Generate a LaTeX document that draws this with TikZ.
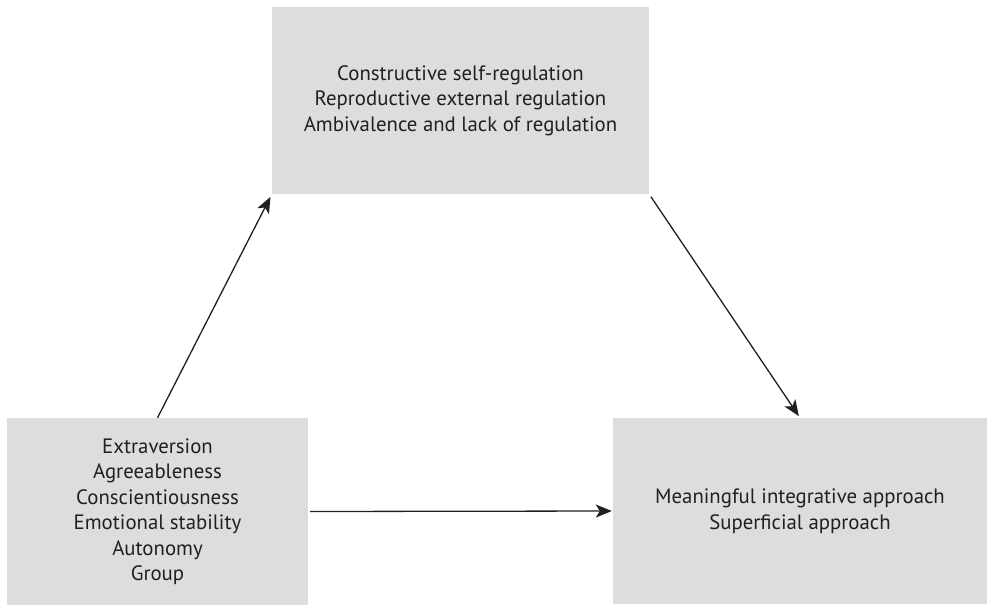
\documentclass[tikz,border=0pt]{standalone}
\usepackage{fontspec}
\setmainfont{PT Sans}
\usetikzlibrary{arrows.meta}
\definecolor{boxgrey}{HTML}{DCDDDF}
\definecolor{inkdark}{HTML}{231F20}

\begin{document}
\begin{tikzpicture}[
    x=1pt, y=-1pt,
    box/.style={fill=boxgrey, draw=none, align=center, inner sep=0pt,
                font=\fontsize{20.8}{25.5}\selectfont, text=inkdark},
    arrow/.style={draw=inkdark, line width=1.3pt,
                  -{Stealth[length=16pt, width=13pt, inset=4pt]}},
]
\useasboundingbox (0,0) rectangle (987,605);

% Top: regulation
\node[box, minimum width=377pt, minimum height=187pt] (reg) at (460.5, 100.5) {
    Constructive self-regulation\\
    Reproductive external regulation\\
    Ambivalence and lack of regulation
};

% Bottom left: personality
\node[box, minimum width=301pt, minimum height=187pt] (pers) at (157.5, 511.5) {
    Extraversion\\
    Agreeableness\\
    Conscientiousness\\
    Emotional stability\\
    Autonomy\\
    Group
};

% Bottom right: approaches
\node[box, minimum width=374pt, minimum height=186pt] (appr) at (800, 511) {
    Meaningful integrative approach\\
    Superficial approach
};

% Arrows
\draw[arrow, shorten >=3pt] (pers.north) -- (reg.south west);
\draw[arrow, shorten <=3pt, shorten >=2pt] (reg.south east) -- (appr.north);
\draw[arrow, shorten <=2pt, shorten >=1pt] (pers.east) -- (appr.west);

\end{tikzpicture}
\end{document}
